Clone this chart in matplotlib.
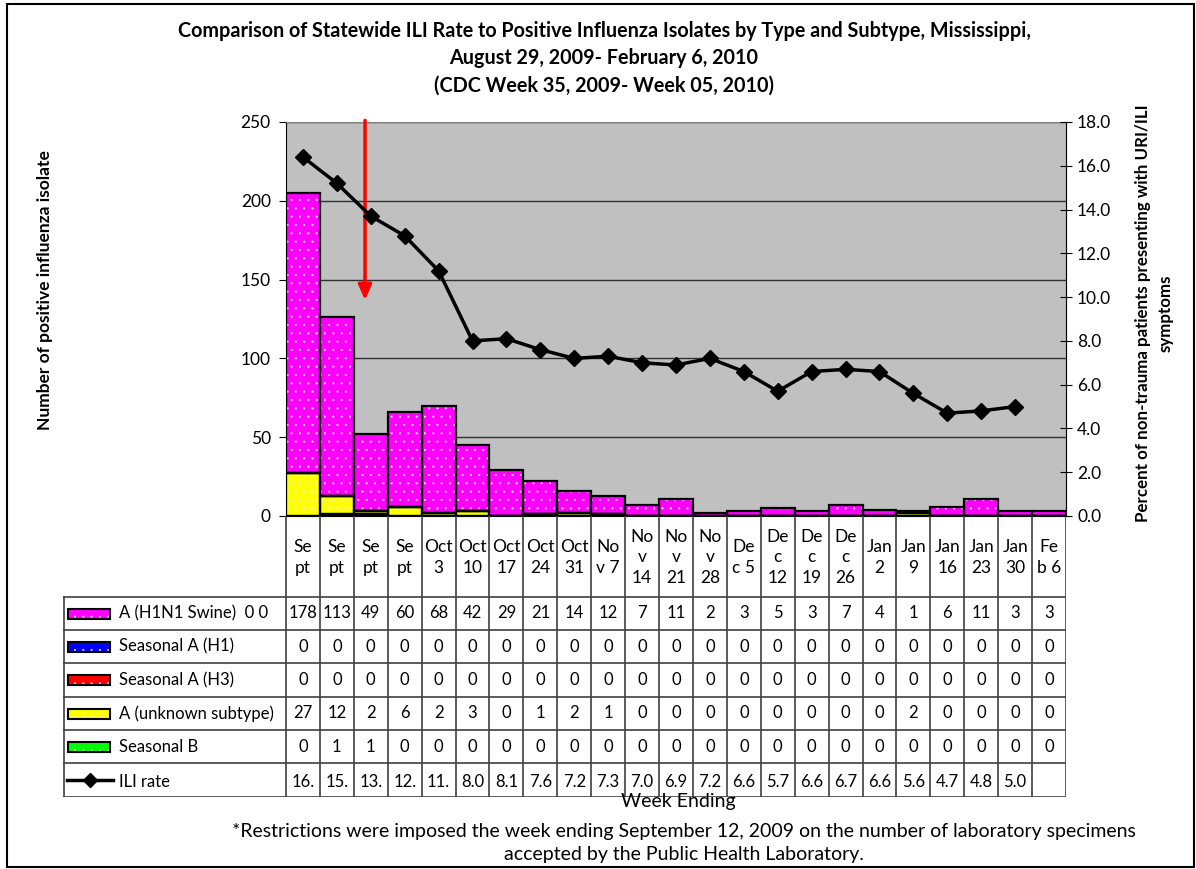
import numpy as np
import matplotlib
matplotlib.use("Agg")
import matplotlib.pyplot as plt
from matplotlib.patches import Rectangle
from matplotlib.lines import Line2D

plt.rcParams['font.family'] = ['Lato', 'DejaVu Sans']

# ---------------- data ----------------
weeks = ["Se\npt", "Se\npt", "Se\npt", "Se\npt", "Oct\n3", "Oct\n10", "Oct\n17", "Oct\n24",
         "Oct\n31", "No\nv 7", "No\nv\n14", "No\nv\n21", "No\nv\n28", "De\nc 5", "De\nc\n12",
         "De\nc\n19", "De\nc\n26", "Jan\n2", "Jan\n9", "Jan\n16", "Jan\n23", "Jan\n30", "Fe\nb 6"]
h1n1_swine = [178, 113, 49, 60, 68, 42, 29, 21, 14, 12, 7, 11, 2, 3, 5, 3, 7, 4, 1, 6, 11, 3, 3]
seasonal_h1 = [0] * 23
seasonal_h3 = [0] * 23
unknown_sub = [27, 12, 2, 6, 2, 3, 0, 1, 2, 1, 0, 0, 0, 0, 0, 0, 0, 0, 2, 0, 0, 0, 0]
seasonal_b = [0, 1, 1, 0, 0, 0, 0, 0, 0, 0, 0, 0, 0, 0, 0, 0, 0, 0, 0, 0, 0, 0, 0]
ili_rate = [16.4, 15.2, 13.7, 12.8, 11.2, 8.0, 8.1, 7.6, 7.2, 7.3, 7.0, 6.9, 7.2, 6.6, 5.7,
            6.6, 6.7, 6.6, 5.6, 4.7, 4.8, 5.0, np.nan]

series_labels = ["A (H1N1 Swine)  0 0", "Seasonal A (H1)", "Seasonal A (H3)",
                 "A (unknown subtype)", "Seasonal B"]
series_values = [h1n1_swine, seasonal_h1, seasonal_h3, unknown_sub, seasonal_b]
series_colors = ["#FF00FF", "#0000FF", "#FF0000", "#FFFF00", "#00FF00"]

title = ("Comparison of Statewide ILI Rate to Positive Influenza Isolates by Type and Subtype, Mississippi,\n"
         "August 29, 2009- February 6, 2010\n"
         "(CDC Week 35, 2009- Week 05, 2010)")

# ---------------- layout ----------------
W, H = 1196, 869
fig = plt.figure(figsize=(W / 100, H / 100), dpi=100)
fig.patch.set_facecolor("white")

def fx(px):
    return px / W

def fy(py):
    return 1 - py / H

L, R, T, B = 286, 1066, 122, 516
ax = fig.add_axes([fx(L), fy(B), fx(R - L), (B - T) / H])
n = len(weeks)
x = np.arange(n)
ax.set_xlim(-0.5, n - 0.5)
ax.set_ylim(0, 250)
ax.set_facecolor("#C0C0C0")
ax.set_yticks(np.arange(0, 251, 50))
ax.set_xticks([])
ax.grid(axis='y', color="#303030", lw=1)
ax.set_axisbelow(True)
for s in ['top', 'right']:
    ax.spines[s].set_color("#808080")
ax.spines['left'].set_color('black')
ax.spines['bottom'].set_color('black')
ax.tick_params(axis='y', direction='out', length=5, labelsize=12.5, pad=6)

# stacked bars: bottom to top
order = [4, 3, 2, 1, 0]
bottom = np.zeros(n)
plt.rcParams['hatch.linewidth'] = 0.3
dot_col = "#F8E8F8"
for i in order:
    vals = np.array(series_values[i], dtype=float)
    ax.bar(x, vals, width=1.0, bottom=bottom, color=series_colors[i],
           edgecolor=dot_col, linewidth=0, hatch='..', zorder=2)
    ax.bar(x, vals, width=1.0, bottom=bottom, fill=False,
           edgecolor='black', linewidth=1.6, zorder=3)
    bottom += vals

ax2 = ax.twinx()
ax2.set_ylim(0, 18)
ax2.set_yticks(np.arange(0, 18.1, 2))
ax2.set_yticklabels([f"{v:.1f}" for v in np.arange(0, 18.1, 2)])
ax2.tick_params(axis='y', direction='inout', length=8, labelsize=12.5, pad=4)
ax2.plot(x, ili_rate, color='black', lw=2.5, marker='D', markersize=8, zorder=5)
for s in ['top', 'left', 'bottom']:
    ax2.spines[s].set_visible(False)
ax2.spines['right'].set_color('black')

# red arrow annotation
ax.annotate('', xy=(1.83, 137), xytext=(1.83, 251),
            arrowprops=dict(arrowstyle='-|>,head_length=0.9,head_width=0.4',
                            color='red', lw=2.5, shrinkA=0, shrinkB=0), zorder=6,
            annotation_clip=False)

# ---------------- table ----------------
TL, TB = 63, 797
unit = (R - L) / n
x0 = -0.5 - (L - TL) / unit
axt = fig.add_axes([fx(TL), fy(TB), fx(R - TL), (TB - B) / H])
axt.set_xlim(x0, n - 0.5)
axt.set_ylim(TB - B, 0)
axt.axis('off')

hdr = 81
row_edges = [hdr, 114, 147, 181, 214, 247, 281]
lc = "#404040"
for k in range(n + 1):
    axt.plot([k - 0.5, k - 0.5], [0, row_edges[-1]], color=lc, lw=1.2)
axt.plot([x0 + 0.03, x0 + 0.03], [hdr, row_edges[-1]], color=lc, lw=1.2)
for yy in row_edges:
    axt.plot([x0, n - 0.5], [yy, yy], color=lc, lw=1.2)

for i, lab in enumerate(weeks):
    axt.text(i, hdr / 2 + 1, lab, ha='center', va='center', fontsize=12.5, linespacing=1.35)

fs_t = 12
px2u = 1 / unit
for r in range(5):
    yc = (row_edges[r] + row_edges[r + 1]) / 2
    axt.add_patch(Rectangle((x0 + 5 * px2u, yc - 5), 42 * px2u, 10,
                            facecolor=series_colors[r], edgecolor=dot_col,
                            lw=0, hatch='..'))
    axt.add_patch(Rectangle((x0 + 5 * px2u, yc - 5), 42 * px2u, 10,
                            fill=False, edgecolor='black', lw=1.5))
    axt.text(x0 + 56 * px2u, yc, series_labels[r], ha='left', va='center', fontsize=fs_t)
    for i, v in enumerate(series_values[r]):
        axt.text(i, yc, str(v), ha='center', va='center', fontsize=fs_t)

yc = (row_edges[5] + row_edges[6]) / 2
axt.add_line(Line2D([x0 + 4 * px2u, x0 + 50 * px2u], [yc, yc], color='black', lw=2.5))
axt.plot([x0 + 27 * px2u], [yc], marker='D', color='black', markersize=7)
axt.text(x0 + 56 * px2u, yc + 2, "ILI rate", ha='left', va='center', fontsize=fs_t)
for i, v in enumerate(ili_rate):
    if np.isnan(v):
        continue
    s = f"{int(v)}." if v >= 10 else f"{v:.1f}"
    axt.text(i, yc + 2, s, ha='center', va='center', fontsize=fs_t)

# ---------------- texts ----------------
fig.text(fx(604), fy(58), title, ha='center', va='center', fontsize=14.2,
         fontweight='bold', linespacing=1.45)
fig.text(fx(45), fy(290), "Number of positive influenza isolate", rotation=90,
         ha='center', va='center', fontsize=12.5, fontweight='bold')
fig.text(fx(1154), fy(313), "Percent of non-trauma patients presenting with URI/ILI\nsymptoms",
         rotation=90, ha='center', va='center', fontsize=12.2, fontweight='bold',
         linespacing=1.5)
fig.text(fx(678), fy(802), "Week Ending", ha='center', va='center', fontsize=14)
fig.text(fx(684), fy(843), "*Restrictions were imposed the week ending September 12, 2009 on the number of laboratory specimens\n"
         "accepted by the Public Health Laboratory.", ha='center', va='center', fontsize=14,
         linespacing=1.4)

# figure border
fig.add_artist(Rectangle((fx(7), 0.002), 1 - fx(7) - 0.002, fy(4) - 0.002,
                         transform=fig.transFigure, fill=False, edgecolor='black', lw=1.5))

fig.savefig("out.png", dpi=100)
